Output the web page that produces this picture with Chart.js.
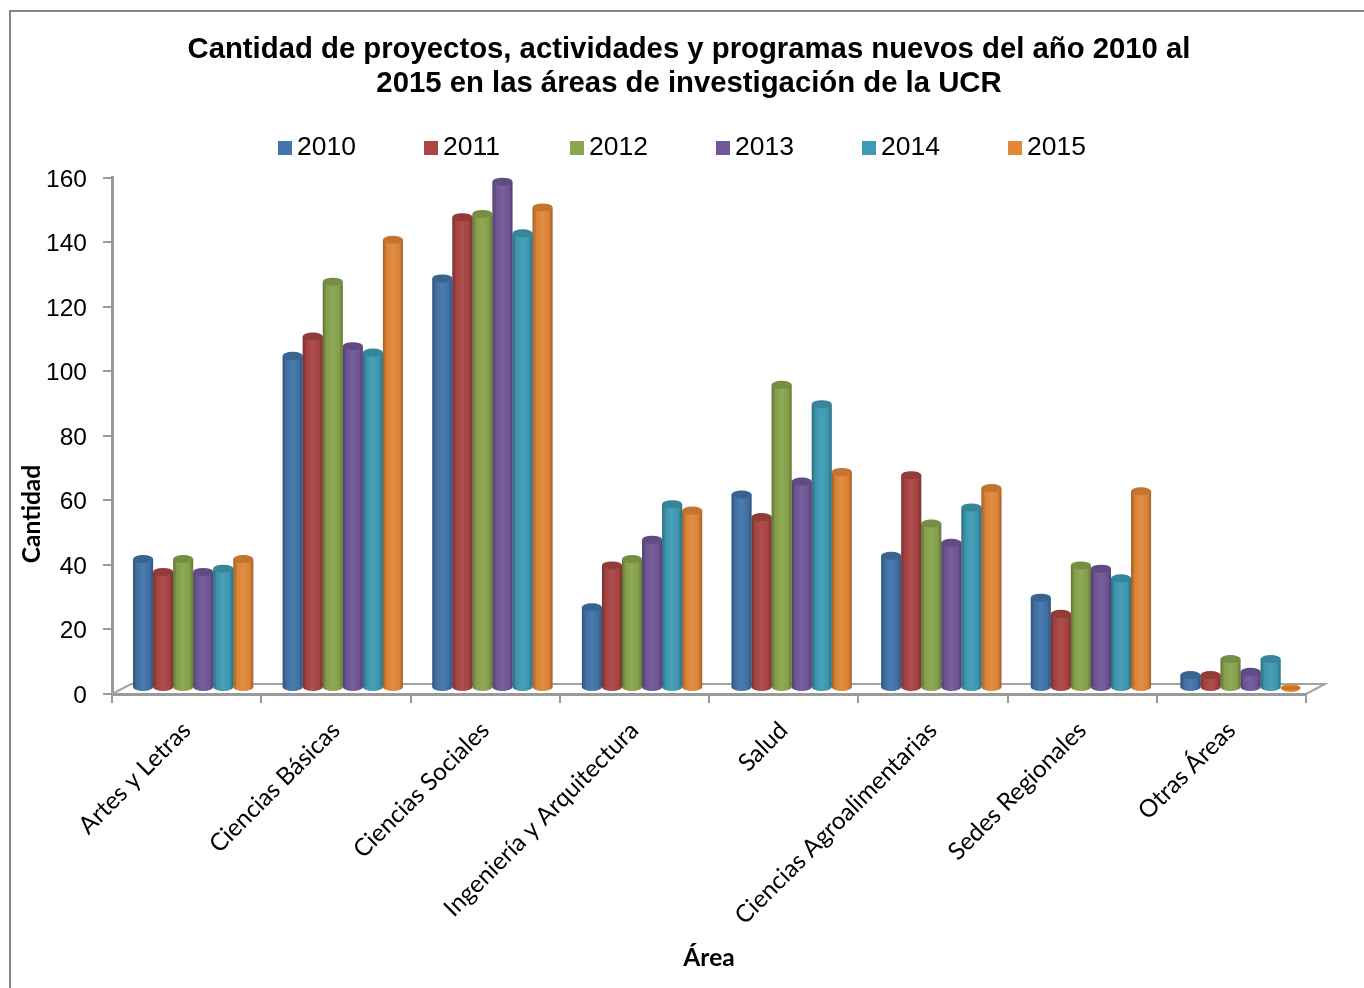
<!DOCTYPE html>
<html>
<head>
<meta charset="utf-8">
<script src="https://cdn.jsdelivr.net/npm/chart.js@4"></script>
<style>
  html, body { margin: 0; padding: 0; background: #fff; overflow: hidden; }
  #wrap { position: relative; width: 1364px; height: 988px; }
  #frame { position: absolute; left: 9px; top: 10px; right: 0; bottom: 0; border-left: 2px solid #868686; border-top: 2px solid #868686; }
  #myChart { position: absolute; left: 0; top: 0; }
  #legend span.item { position: absolute; top: 130px; font: 26.5px "Liberation Sans", sans-serif; color: #000; line-height: 32px; white-space: nowrap; }
  #legend i { display: inline-block; width: 14px; height: 14px; margin-right: 5px; }
</style>
</head>
<body>
<div id="wrap">
  <div id="frame"></div>
  <canvas id="myChart" width="1364" height="988"></canvas>
  <div id="legend"></div>
</div>
<script>
let labels = ["Artes y Letras", "Ciencias Básicas", "Ciencias Sociales", "Ingeniería y Arquitectura", "Salud", "Ciencias Agroalimentarias", "Sedes Regionales", "Otras Áreas"];
let years = ["2010", "2011", "2012", "2013", "2014", "2015"];
let colors = ["#4375ab", "#ab4644", "#8aa64e", "#72589a", "#3f9bb5", "#e38838"];
let values2010 = [40, 103, 127, 25, 60, 41, 28, 4];
let values2011 = [36, 109, 146, 38, 53, 66, 23, 4];
let values2012 = [40, 126, 147, 40, 94, 51, 38, 9];
let values2013 = [36, 106, 157, 46, 64, 45, 37, 5];
let values2014 = [37, 104, 141, 57, 88, 56, 34, 9];
let values2015 = [40, 139, 149, 55, 67, 62, 61, 0];
let series = [values2010, values2011, values2012, values2013, values2014, values2015];

const shiftX = 6.1, shiftY = -6, stretchX = 1.0025, capY = 4;

function shade(ctx, el) {
    let left = el.x - el.width / 2, right = el.x + el.width / 2;
    let g = ctx.createLinearGradient(left, 0, right, 0);
    g.addColorStop(0, "rgba(0,0,0,0.3)");
    g.addColorStop(0.2, "rgba(0,0,0,0.04)");
    g.addColorStop(0.5, "rgba(255,255,255,0.05)");
    g.addColorStop(0.8, "rgba(0,0,0,0.03)");
    g.addColorStop(1, "rgba(0,0,0,0.28)");
    return g;
}

const cylinders = {
    id: "cylinders",
    // title is centred on the whole frame, not on the plot
    afterLayout(chart) {
        let t = chart.titleBlock;
        t.left += 36;
        t.right += 36;
    },
    beforeDatasetsDraw(chart) {
        let ctx = chart.ctx, a = chart.chartArea, d = 19, up = 10;
        ctx.save();
        ctx.strokeStyle = "#a3a3a3";
        ctx.lineWidth = 2;
        ctx.beginPath();
        ctx.moveTo(a.left, a.bottom);
        ctx.lineTo(a.left + d, a.bottom - up);
        ctx.lineTo(a.right + d, a.bottom - up);
        ctx.lineTo(a.right, a.bottom);
        ctx.stroke();
        ctx.restore();
        // columns sit in the middle of the 3D floor, so move them back from the front axis
        ctx.save();
        ctx.translate(shiftX, shiftY);
        ctx.scale(stretchX, 1);
    },
    afterDatasetsDraw(chart) {
        let ctx = chart.ctx;
        chart.data.datasets.forEach((ds, i) => {
            chart.getDatasetMeta(i).data.forEach((el, j) => {
                let rx = el.width / 2;
                ctx.fillStyle = ds.backgroundColor;
                ctx.beginPath();
                ctx.ellipse(el.x, el.base, rx, capY, 0, 0, Math.PI * 2);
                ctx.fill();
                if (series[i][j] === 0) {
                    ctx.fillStyle = "rgba(120,60,0,0.25)";
                    ctx.beginPath();
                    ctx.ellipse(el.x, el.base, rx, capY * 0.5, 0, 0, Math.PI * 2);
                    ctx.fill();
                    return;
                }
                ctx.fillStyle = shade(ctx, el);
                ctx.beginPath();
                ctx.moveTo(el.x - rx, el.y);
                ctx.lineTo(el.x - rx, el.base);
                ctx.ellipse(el.x, el.base, rx, capY, 0, Math.PI, 0, true);
                ctx.lineTo(el.x + rx, el.y);
                ctx.closePath();
                ctx.fill();
                ctx.fillStyle = ds.backgroundColor;
                ctx.beginPath();
                ctx.ellipse(el.x, el.y, rx, capY, 0, 0, Math.PI * 2);
                ctx.fill();
                ctx.fillStyle = "rgba(0,0,0,0.14)";
                ctx.fill();
            });
        });
        ctx.restore();
    },
    // axis title sits well below the middle of the axis in the original
    afterDraw(chart) {
        let ctx = chart.ctx, a = chart.chartArea;
        ctx.save();
        ctx.translate(32, a.bottom - 180);
        ctx.rotate(-Math.PI / 2);
        ctx.font = 'bold 24.5px Lato';
        ctx.fillStyle = "#000";
        ctx.textAlign = "center";
        ctx.textBaseline = "middle";
        ctx.fillText("Cantidad", 0, 0);
        ctx.restore();
    }
};

new Chart(document.getElementById("myChart"), {
    type: "bar",
    plugins: [cylinders],
    data: {
        labels: labels,
        datasets: years.map((y, i) => ({
            label: y,
            data: series[i],
            backgroundColor: colors[i],
            borderWidth: 0,
            categoryPercentage: 0.804,
            barPercentage: 1
        }))
    },
    options: {
        responsive: false,
        animation: false,
        layout: { padding: { left: 0, right: 58, top: 0, bottom: 0 } },
        plugins: {
            legend: { display: false },
            tooltip: { enabled: false },
            title: {
                display: true,
                text: ["Cantidad de proyectos, actividades y programas nuevos del año 2010 al", "2015 en las áreas de investigación de la UCR"],
                color: "#000",
                font: { family: "Liberation Sans", size: 29.3, weight: "bold", lineHeight: 1.16 },
                padding: { top: 33, bottom: 77 }
            }
        },
        scales: {
            x: {
                afterFit(scale) { scale.height = 294; },
                title: { display: true, text: "Área", color: "#000", font: { family: "Lato", size: 24.5, weight: "bold" }, padding: { top: 0, bottom: 15 } },
                border: { color: "#9a9a9a", width: 3 },
                grid: { drawOnChartArea: false, color: "#9a9a9a", lineWidth: 2, tickLength: 9 },
                ticks: { color: "#000", font: { family: "Lato", size: 24.3 }, minRotation: 45, maxRotation: 45, padding: 13, autoSkip: false }
            },
            y: {
                min: 0,
                max: 160,
                afterFit(scale) { scale.width = 112; },
                border: { color: "#9a9a9a", width: 3 },
                grid: { drawOnChartArea: false, color: "#9a9a9a", lineWidth: 2, tickLength: 9 },
                ticks: { stepSize: 20, color: "#000", font: { family: "Liberation Sans", size: 24.5 }, padding: 16, labelOffset: 2 }
            }
        }
    }
});

// legend gap is tighter than a Chart.js one allows, so build it from the series lists
let legend = document.getElementById("legend");
years.forEach((y, i) => {
    let item = document.createElement("span");
    item.className = "item";
    item.style.left = (278 + i * 146) + "px";
    item.innerHTML = '<i style="background:' + colors[i] + '"></i>' + y;
    legend.appendChild(item);
});
</script>
</body>
</html>
